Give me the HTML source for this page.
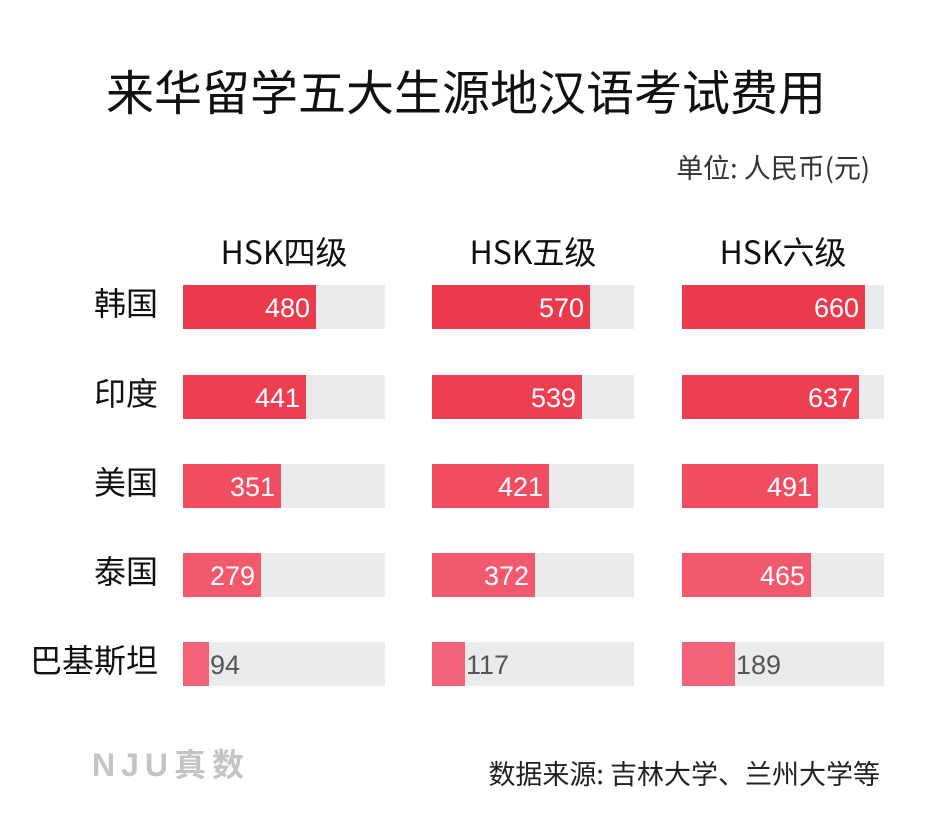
<!DOCTYPE html>
<html><head><meta charset="utf-8"><style>
body{margin:0;width:944px;height:824px;background:#fff;position:relative;overflow:hidden;font-family:"Liberation Sans","Noto Sans CJK SC",sans-serif}
.a{position:absolute;white-space:nowrap}
.t{left:0;width:932px;text-align:center;top:54px;font-size:48px;color:#111;font-family:"Noto Sans CJK SC",sans-serif;}
.u{right:74px;top:147px;font-size:27px;color:#333;font-family:"Noto Sans CJK SC",sans-serif}
.h{font-size:32px;color:#111;width:202px;text-align:center;top:228px;font-family:"Noto Sans CJK SC",sans-serif}
.c{font-size:32px;color:#111;right:786px;text-align:right;font-family:"Noto Sans CJK SC",sans-serif}
.tr{background:#ebebee;width:202px;height:44px}
.b{height:44px;position:absolute;left:0;top:0}
.v{position:absolute;top:0;line-height:46px;font-size:27px}
</style></head><body>
<div class="a t">来华留学五大生源地汉语考试费用</div>
<div class="a u">单位: 人民币(元)</div>
<div class="a h" style="left:183px">HSK四级</div>
<div class="a h" style="left:432px">HSK五级</div>
<div class="a h" style="left:682px">HSK六级</div>
<div id="g"></div>
<div class="a" style="left:92px;top:740px;font-size:32px;font-weight:bold;color:#c4c4c4;letter-spacing:6px;font-family:'Liberation Sans','Noto Sans CJK SC',sans-serif">NJU真数</div>
<div class="a" style="right:64px;top:753px;font-size:27px;color:#222;font-family:'Noto Sans CJK SC',sans-serif">数据来源: 吉林大学、兰州大学等</div>
<script>
var names=["韩国","印度","美国","泰国","巴基斯坦"];
var d=[[480,570,660],[441,539,637],[351,421,491],[279,372,465],[94,117,189]];
var cols=["#ec3a4d","#ed3f51","#f04d61","#f2596c","#f36377"];
var xs=[183,432,682],ys=[285,375,464,553,642],h="";
for(var i=0;i<5;i++){
h+='<div class="a c" style="top:'+(ys[i]-6)+'px">'+names[i]+'</div>';
for(var j=0;j<3;j++){var w=Math.round(d[i][j]*0.278);
h+='<div class="a tr" style="left:'+xs[j]+'px;top:'+ys[i]+'px"><div class="b" style="width:'+w+'px;background:'+cols[i]+'"></div>';
if(i<4)h+='<div class="v" style="right:'+(202-w+6)+'px;color:#fff">'+d[i][j]+'</div>';
else h+='<div class="v" style="left:'+(w+1)+'px;color:#555">'+d[i][j]+'</div>';
h+='</div>';}}
document.getElementById("g").innerHTML=h;
</script>
</body></html>
